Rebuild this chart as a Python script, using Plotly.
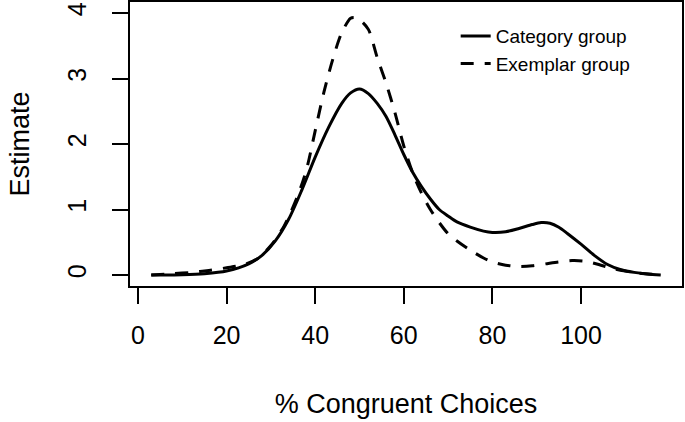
import plotly.graph_objects as go

# Category group (solid)
cat_x = [3, 10, 15, 20, 25, 28, 31, 34, 37, 40, 43, 46, 48, 50, 52, 54, 56, 58, 60, 62, 64, 66,
         68, 70, 72, 75, 78, 80, 83, 86, 89, 91, 93, 95, 97, 100, 103, 106, 109, 112, 115, 118]
cat_y = [0.0, 0.005, 0.02, 0.06, 0.17, 0.3, 0.52, 0.85, 1.3, 1.8, 2.25, 2.62, 2.78, 2.84, 2.77,
         2.62, 2.42, 2.14, 1.84, 1.57, 1.35, 1.16, 1.0, 0.9, 0.81, 0.73, 0.67, 0.65, 0.66, 0.71,
         0.77, 0.80, 0.79, 0.73, 0.63, 0.47, 0.3, 0.16, 0.08, 0.04, 0.015, 0.0]

# Exemplar group (dashed)
exe_x = [3, 8, 12, 16, 20, 24, 27, 30, 33, 36, 38, 40, 42, 44, 46, 48, 49, 50, 52, 54, 56, 58,
         60, 62, 64, 66, 68, 70, 72, 75, 78, 80, 83, 86, 89, 92, 95, 98, 101, 104, 107, 110,
         113, 116, 118]
exe_y = [0.0, 0.02, 0.04, 0.07, 0.11, 0.16, 0.25, 0.45, 0.75, 1.2, 1.6, 2.2, 2.8, 3.3, 3.7,
         3.92, 3.93, 3.9, 3.75, 3.32, 2.93, 2.48, 1.97, 1.56, 1.25, 1.0, 0.8, 0.63, 0.52, 0.38,
         0.26, 0.2, 0.15, 0.13, 0.14, 0.17, 0.2, 0.22, 0.21, 0.16, 0.1, 0.06, 0.03, 0.01, 0.0]

x_ticks = [0, 20, 40, 60, 80, 100]
y_ticks = [0, 1, 2, 3, 4]

FONT = "Arial, Liberation Sans, sans-serif"

fig = go.Figure()
fig.add_trace(go.Scatter(x=cat_x, y=cat_y, mode="lines", name="Category group",
                         line=dict(color="black", width=3, shape="spline", smoothing=0.8)))
fig.add_trace(go.Scatter(x=exe_x, y=exe_y, mode="lines", name="Exemplar group",
                         line=dict(color="black", width=3, shape="spline", smoothing=0.8,
                                   dash="13px,11px")))

fig.update_layout(
    width=685, height=422,
    margin=dict(l=130, r=3, t=2, b=136, autoexpand=False),
    paper_bgcolor="white", plot_bgcolor="white",
    font=dict(family=FONT, color="black"),
    showlegend=True,
    legend=dict(x=0.590, y=0.947, xanchor="left", yanchor="top",
                bgcolor="rgba(0,0,0,0)", borderwidth=0,
                font=dict(size=19, family=FONT, color="black")),
    xaxis=dict(range=[-1.8, 122.8], tickvals=x_ticks, ticktext=[str(v) for v in x_ticks],
               showgrid=False, zeroline=False, showline=True, mirror=True,
               linecolor="black", linewidth=1.5, automargin=False,
               ticks="outside", ticklen=16, tickwidth=1.5, tickcolor="black",
               tickfont=dict(size=25), ticklabelstandoff=10,
               title=dict(text="% Congruent Choices", font=dict(size=27), standoff=46)),
    yaxis=dict(range=[-0.168, 4.168], tickvals=y_ticks, ticktext=[str(v) for v in y_ticks],
               showgrid=False, zeroline=False, showline=True, mirror=True,
               linecolor="black", linewidth=1.5, automargin=False,
               ticks="outside", ticklen=16, tickwidth=1.5, tickcolor="black",
               tickangle=-90, tickfont=dict(size=25), ticklabelstandoff=16,
               title=dict(text="Estimate", font=dict(size=27), standoff=26)),
)

fig.write_html("out.html", config={"displayModeBar": False},
               post_script="document.body.style.margin='0';document.body.style.overflow='hidden';")
